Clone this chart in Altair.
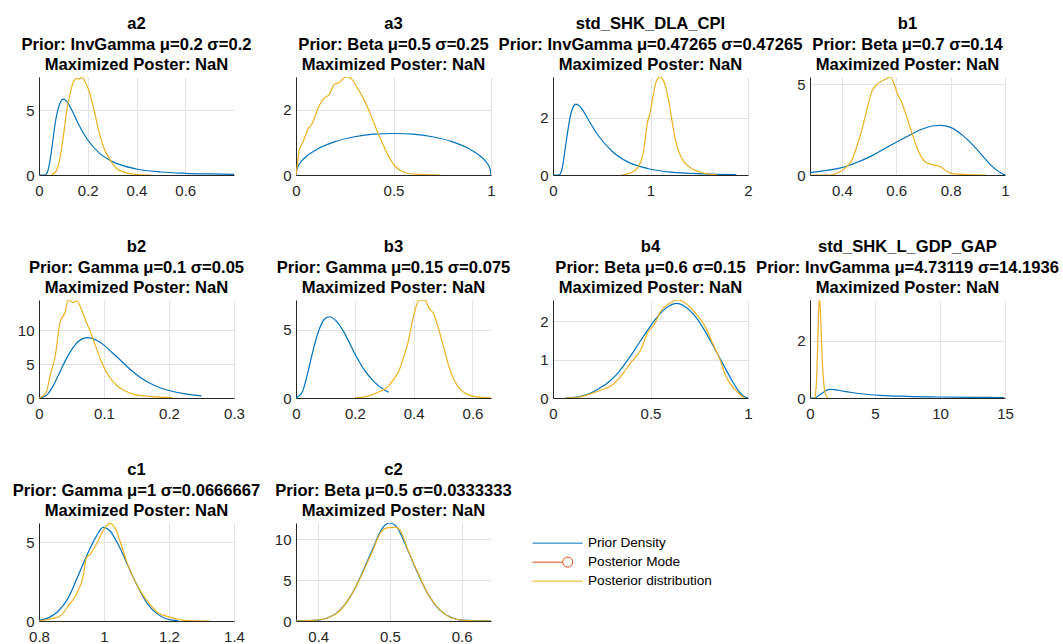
import altair as alt
import pandas as pd

BLUE = "#0072BD"
ORANGE = "#D95319"
YELLOW = "#EDB120"
FONT = "Liberation Sans"
NAN_LINE = "Maximized Poster: NaN"

# ---------------- data ----------------
a2_prior_x = [0, 0.025, 0.035, 0.045, 0.055, 0.065, 0.075, 0.085, 0.1, 0.115, 0.135, 0.16, 0.2, 0.25, 0.3, 0.4, 0.5, 0.6, 0.7, 0.8]
a2_prior_y = [0, 0, 0.25, 1.1, 2.4, 3.8, 4.85, 5.5, 5.85, 5.65, 5.0, 4.0, 2.7, 1.65, 1.05, 0.46, 0.23, 0.13, 0.08, 0.05]
a2_post_x = [0.05, 0.07, 0.085, 0.1, 0.114, 0.128, 0.141, 0.155, 0.165, 0.175, 0.189, 0.205, 0.223, 0.244, 0.264, 0.292, 0.319, 0.353, 0.394, 0.46]
a2_post_y = [0, 0.3, 1.2, 3.0, 5.0, 6.3, 7.2, 7.45, 7.4, 7.56, 7.2, 6.5, 5.25, 3.5, 2.2, 1.15, 0.5, 0.2, 0.05, 0]

a3_prior_x = [0, 0.005, 0.02, 0.05, 0.1, 0.2, 0.3, 0.4, 0.5, 0.6, 0.7, 0.8, 0.9, 0.95, 0.98, 0.995, 1]
a3_prior_y = [0, 0.18, 0.36, 0.55, 0.76, 1.02, 1.17, 1.25, 1.27, 1.25, 1.17, 1.02, 0.76, 0.55, 0.36, 0.18, 0]
a3_post_x = [0, 0.008, 0.017, 0.034, 0.06, 0.085, 0.11, 0.145, 0.17, 0.196, 0.222, 0.255, 0.281, 0.315, 0.35, 0.383, 0.417, 0.451, 0.485, 0.51, 0.545, 0.596, 0.74]
a3_post_y = [0, 0.36, 0.77, 0.98, 1.39, 1.6, 2.0, 2.36, 2.46, 2.77, 2.83, 3.0, 2.96, 2.66, 2.3, 1.84, 1.33, 0.87, 0.46, 0.26, 0.1, 0.03, 0]

cpi_prior_x = [0, 0.06, 0.08, 0.1, 0.12, 0.15, 0.18, 0.2, 0.236, 0.27, 0.3, 0.36, 0.46, 0.6, 0.77, 0.98, 1.21, 1.55, 1.88]
cpi_prior_y = [0, 0, 0.08, 0.33, 0.8, 1.5, 2.1, 2.33, 2.48, 2.42, 2.3, 1.95, 1.4, 0.85, 0.45, 0.22, 0.1, 0.04, 0.015]
cpi_post_x = [0.7, 0.8, 0.87, 0.923, 0.974, 0.99, 1.025, 1.06, 1.094, 1.128, 1.163, 1.197, 1.231, 1.265, 1.316, 1.385, 1.487, 1.624, 1.69]
cpi_post_y = [0, 0.08, 0.26, 0.73, 1.91, 2.1, 2.74, 3.28, 3.43, 3.34, 2.98, 2.39, 1.68, 1.09, 0.61, 0.32, 0.12, 0.02, 0]

b1_prior_x = [0.283, 0.357, 0.4, 0.455, 0.517, 0.578, 0.64, 0.689, 0.738, 0.763, 0.8, 0.849, 0.898, 0.947, 0.984, 1.0]
b1_prior_y = [0.13, 0.28, 0.41, 0.69, 1.11, 1.63, 2.13, 2.5, 2.72, 2.74, 2.63, 2.13, 1.39, 0.56, 0.12, 0]
b1_post_x = [0.283, 0.357, 0.394, 0.418, 0.437, 0.455, 0.474, 0.492, 0.511, 0.529, 0.548, 0.566, 0.578, 0.591, 0.603, 0.621, 0.64, 0.658, 0.677, 0.695, 0.714, 0.738, 0.763, 0.787, 0.812, 0.93]
b1_post_y = [0, 0, 0.19, 0.46, 0.83, 1.57, 2.5, 3.61, 4.63, 5.0, 5.19, 5.33, 5.41, 5.09, 4.54, 3.98, 3.15, 2.31, 1.48, 0.93, 0.65, 0.56, 0.46, 0.19, 0.06, 0]

b2_prior_x = [0, 0.01, 0.02, 0.03, 0.04, 0.05, 0.06, 0.075, 0.09, 0.1, 0.112, 0.125, 0.14, 0.155, 0.17, 0.185, 0.2, 0.225, 0.25]
b2_prior_y = [0, 0.29, 1.5, 3.4, 5.4, 7.1, 8.3, 8.9, 8.45, 7.8, 6.75, 5.6, 4.25, 3.1, 2.2, 1.55, 1.1, 0.6, 0.3]
b2_post_x = [0, 0.0067, 0.012, 0.017, 0.025, 0.0323, 0.04, 0.045, 0.053, 0.058, 0.063, 0.071, 0.0785, 0.086, 0.0965, 0.107, 0.12, 0.132, 0.148, 0.174, 0.205]
b2_post_y = [0, 0.34, 1.08, 3.28, 6.23, 11.1, 12.6, 14.45, 14.06, 14.3, 13.57, 11.6, 9.9, 7.94, 5.25, 3.28, 1.81, 1.08, 0.49, 0.2, 0.05]

b3_prior_x = [0, 0.0113, 0.0226, 0.04, 0.06, 0.08, 0.095, 0.1125, 0.135, 0.16, 0.2, 0.231, 0.265, 0.293, 0.315]
b3_prior_y = [0, 0.17, 0.5, 1.86, 3.67, 5.1, 5.75, 5.97, 5.7, 4.95, 3.26, 2.1, 1.2, 0.7, 0.42]
b3_post_x = [0.2, 0.225, 0.259, 0.287, 0.31, 0.333, 0.35, 0.367, 0.381, 0.395, 0.406, 0.417, 0.429, 0.44, 0.451, 0.468, 0.485, 0.502, 0.519, 0.536, 0.558, 0.581, 0.609, 0.663]
b3_post_y = [0, 0.05, 0.25, 0.49, 0.78, 1.4, 2.0, 3.1, 4.09, 5.56, 6.54, 7.16, 7.2, 7.16, 6.66, 6.18, 5.07, 3.73, 2.38, 1.4, 0.66, 0.29, 0.1, 0.02]

b4_prior_x = [0.064, 0.13, 0.18, 0.23, 0.284, 0.336, 0.387, 0.438, 0.489, 0.54, 0.591, 0.634, 0.676, 0.727, 0.778, 0.83, 0.881, 0.923, 0.957, 0.983, 1.0]
b4_prior_y = [0, 0.03, 0.1, 0.23, 0.41, 0.67, 1.02, 1.41, 1.8, 2.15, 2.39, 2.47, 2.39, 2.15, 1.76, 1.28, 0.8, 0.41, 0.15, 0.03, 0]
b4_post_x = [0.064, 0.13, 0.18, 0.247, 0.298, 0.35, 0.4, 0.452, 0.486, 0.52, 0.554, 0.597, 0.64, 0.682, 0.727, 0.778, 0.82, 0.855, 0.889, 0.932, 0.966, 0.983]
b4_post_y = [0, 0.02, 0.09, 0.21, 0.32, 0.58, 0.93, 1.28, 1.71, 1.93, 2.28, 2.47, 2.56, 2.47, 2.24, 1.89, 1.41, 1.02, 0.54, 0.23, 0.06, 0]

gdp_prior_x = [0, 0.38, 0.64, 1.03, 1.41, 1.67, 2.18, 3.08, 4.1, 5.38, 7.44, 10, 12.56, 14.92]
gdp_prior_y = [0, 0, 0.08, 0.2, 0.29, 0.3, 0.27, 0.2, 0.14, 0.093, 0.058, 0.035, 0.023, 0.015]
gdp_post_x = [0.38, 0.51, 0.59, 0.67, 0.72, 0.77, 0.85, 0.95, 1.08, 1.23, 1.41]
gdp_post_y = [0, 0.66, 1.82, 3.1, 3.42, 3.28, 2.4, 1.24, 0.43, 0.08, 0]

c1_prior_x = [0.8, 0.829, 0.859, 0.89, 0.92, 0.951, 0.977, 0.997, 1.018, 1.043, 1.074, 1.105, 1.135, 1.166, 1.197, 1.228]
c1_prior_y = [0.04, 0.2, 0.62, 1.47, 2.86, 4.34, 5.41, 5.95, 5.74, 4.89, 3.5, 2.13, 1.06, 0.42, 0.11, 0.02]
c1_post_x = [0.8, 0.839, 0.865, 0.89, 0.915, 0.936, 0.946, 0.957, 0.977, 0.992, 1.008, 1.018, 1.033, 1.049, 1.069, 1.09, 1.115, 1.141, 1.166, 1.197, 1.228, 1.259, 1.326]
c1_post_y = [0, 0.15, 0.32, 0.96, 1.7, 2.86, 4.03, 4.24, 4.89, 5.53, 6.06, 6.21, 5.95, 5.1, 3.82, 2.76, 1.8, 1.06, 0.53, 0.28, 0.11, 0.02, 0]

c2_prior_x = [0.369, 0.4, 0.415, 0.43, 0.445, 0.46, 0.475, 0.49, 0.5, 0.51, 0.525, 0.54, 0.555, 0.57, 0.585, 0.6, 0.641]
c2_prior_y = [0, 0.1, 0.45, 1.3, 3.0, 5.6, 8.6, 11.4, 11.96, 11.4, 8.6, 5.6, 3.0, 1.3, 0.45, 0.1, 0]
c2_post_x = [0.369, 0.4, 0.415, 0.43, 0.445, 0.46, 0.475, 0.488, 0.494, 0.5, 0.507, 0.514, 0.525, 0.54, 0.555, 0.57, 0.585, 0.604, 0.641]
c2_post_y = [0, 0.12, 0.42, 1.25, 3.0, 5.5, 8.4, 10.9, 11.3, 11.4, 11.45, 11.1, 8.7, 5.7, 3.0, 1.35, 0.4, 0.08, 0]

legend_names = ["Prior Density", "Posterior Mode", "Posterior distribution"]
legend_colors = [BLUE, ORANGE, YELLOW]
legend_shapes = [
    "M-1,0H1",
    "M-1,0H0.21M0.61,0A0.2,0.2 0 1,1 0.21,0A0.2,0.2 0 1,1 0.61,0",
    "M-1,0H1",
]

W, H = 195, 98


def panel(name, prior_txt, px, py, qx, qy, xdom, ydom, xticks, yticks):
    xenc = alt.X("x:Q", title=None,
                 scale=alt.Scale(domain=xdom, nice=False, zero=False),
                 axis=alt.Axis(values=xticks, format=".3~f"))
    yenc = alt.Y("y:Q", title=None,
                 scale=alt.Scale(domain=ydom, nice=False, zero=False),
                 axis=alt.Axis(values=yticks, format=".3~f"))
    prior = alt.Chart(pd.DataFrame({"x": px, "y": py})).mark_line(
        color=BLUE, strokeWidth=1.2, clip=True, interpolate="monotone"
    ).encode(x=xenc, y=yenc)
    post = alt.Chart(pd.DataFrame({"x": qx, "y": qy})).mark_line(
        color=YELLOW, strokeWidth=1.2, clip=True, interpolate="monotone"
    ).encode(x=xenc, y=yenc)
    return alt.layer(prior, post).properties(
        width=W, height=H,
        title=alt.TitleParams(text=[name, prior_txt, NAN_LINE]),
    )


panels = [
    panel("a2", "Prior: InvGamma μ=0.2 σ=0.2", a2_prior_x, a2_prior_y, a2_post_x, a2_post_y,
          [0, 0.8], [0, 7.56], [0, 0.2, 0.4, 0.6], [0, 5]),
    panel("a3", "Prior: Beta μ=0.5 σ=0.25", a3_prior_x, a3_prior_y, a3_post_x, a3_post_y,
          [0, 1], [0, 3.0], [0, 0.5, 1], [0, 2]),
    panel("std_SHK_DLA_CPI", "Prior: InvGamma μ=0.47265 σ=0.47265", cpi_prior_x, cpi_prior_y, cpi_post_x, cpi_post_y,
          [0, 2], [0, 3.43], [0, 1, 2], [0, 2]),
    panel("b1", "Prior: Beta μ=0.7 σ=0.14", b1_prior_x, b1_prior_y, b1_post_x, b1_post_y,
          [0.283, 1], [0, 5.41], [0.4, 0.6, 0.8, 1], [0, 5]),
    panel("b2", "Prior: Gamma μ=0.1 σ=0.05", b2_prior_x, b2_prior_y, b2_post_x, b2_post_y,
          [0, 0.3], [0, 14.45], [0, 0.1, 0.2, 0.3], [0, 5, 10]),
    panel("b3", "Prior: Gamma μ=0.15 σ=0.075", b3_prior_x, b3_prior_y, b3_post_x, b3_post_y,
          [0, 0.663], [0, 7.2], [0, 0.2, 0.4, 0.6], [0, 5]),
    panel("b4", "Prior: Beta μ=0.6 σ=0.15", b4_prior_x, b4_prior_y, b4_post_x, b4_post_y,
          [0, 1], [0, 2.56], [0, 0.5, 1], [0, 1, 2]),
    panel("std_SHK_L_GDP_GAP", "Prior: InvGamma μ=4.73119 σ=14.1936", gdp_prior_x, gdp_prior_y, gdp_post_x, gdp_post_y,
          [0, 15], [0, 3.42], [0, 5, 10, 15], [0, 2]),
    panel("c1", "Prior: Gamma μ=1 σ=0.0666667", c1_prior_x, c1_prior_y, c1_post_x, c1_post_y,
          [0.8, 1.4], [0, 6.23], [0.8, 1, 1.2, 1.4], [0, 5]),
    panel("c2", "Prior: Beta μ=0.5 σ=0.0333333", c2_prior_x, c2_prior_y, c2_post_x, c2_post_y,
          [0.369, 0.641], [0, 11.96], [0.4, 0.5, 0.6], [0, 5, 10]),
]

leg = alt.Legend(
    title=None, orient="none", legendX=-21, legendY=11,
    symbolSize=2500, clipHeight=18.3, rowPadding=0, labelOffset=5,
    labelFontSize=13.6, labelFont=FONT, labelColor="#000000",
    symbolStrokeWidth=1, padding=0, labelLimit=300,
)
legend_panel = alt.Chart(pd.DataFrame({"series": legend_names})).transform_filter(
    "false"
).mark_point(filled=False, opacity=1, strokeWidth=1).encode(
    color=alt.Color("series:N", scale=alt.Scale(domain=legend_names, range=legend_colors), legend=leg),
    shape=alt.Shape("series:N", scale=alt.Scale(domain=legend_names, range=legend_shapes), legend=leg),
).properties(width=W, height=H)

chart = alt.concat(
    *panels, legend_panel, columns=4,
    spacing={"row": 125, "column": 62}, bounds="flush",
).resolve_scale(
    x="independent", y="independent", color="independent", shape="independent"
).resolve_legend(
    color="independent", shape="independent"
).properties(
    padding={"left": 12, "top": 16, "right": 0, "bottom": 0},
    background="white",
).configure_view(
    stroke=None
).configure_axis(
    domainColor="#262626", domainWidth=1, gridColor="#E2E2E2", gridWidth=1,
    ticks=False, tickSize=0, labelFont=FONT, labelFontSize=15, labelColor="#262626",
    labelFlush=False, labelOverlap=False, labelBound=False,
).configure_axisX(
    labelPadding=8
).configure_axisY(
    labelPadding=5
).configure_title(
    font=FONT, fontSize=16.6, fontWeight="bold", color="#000000",
    lineHeight=20.5, offset=3, anchor="middle", frame="group",
)

chart.save("out.html", embed_options={"renderer": "svg", "actions": False})
